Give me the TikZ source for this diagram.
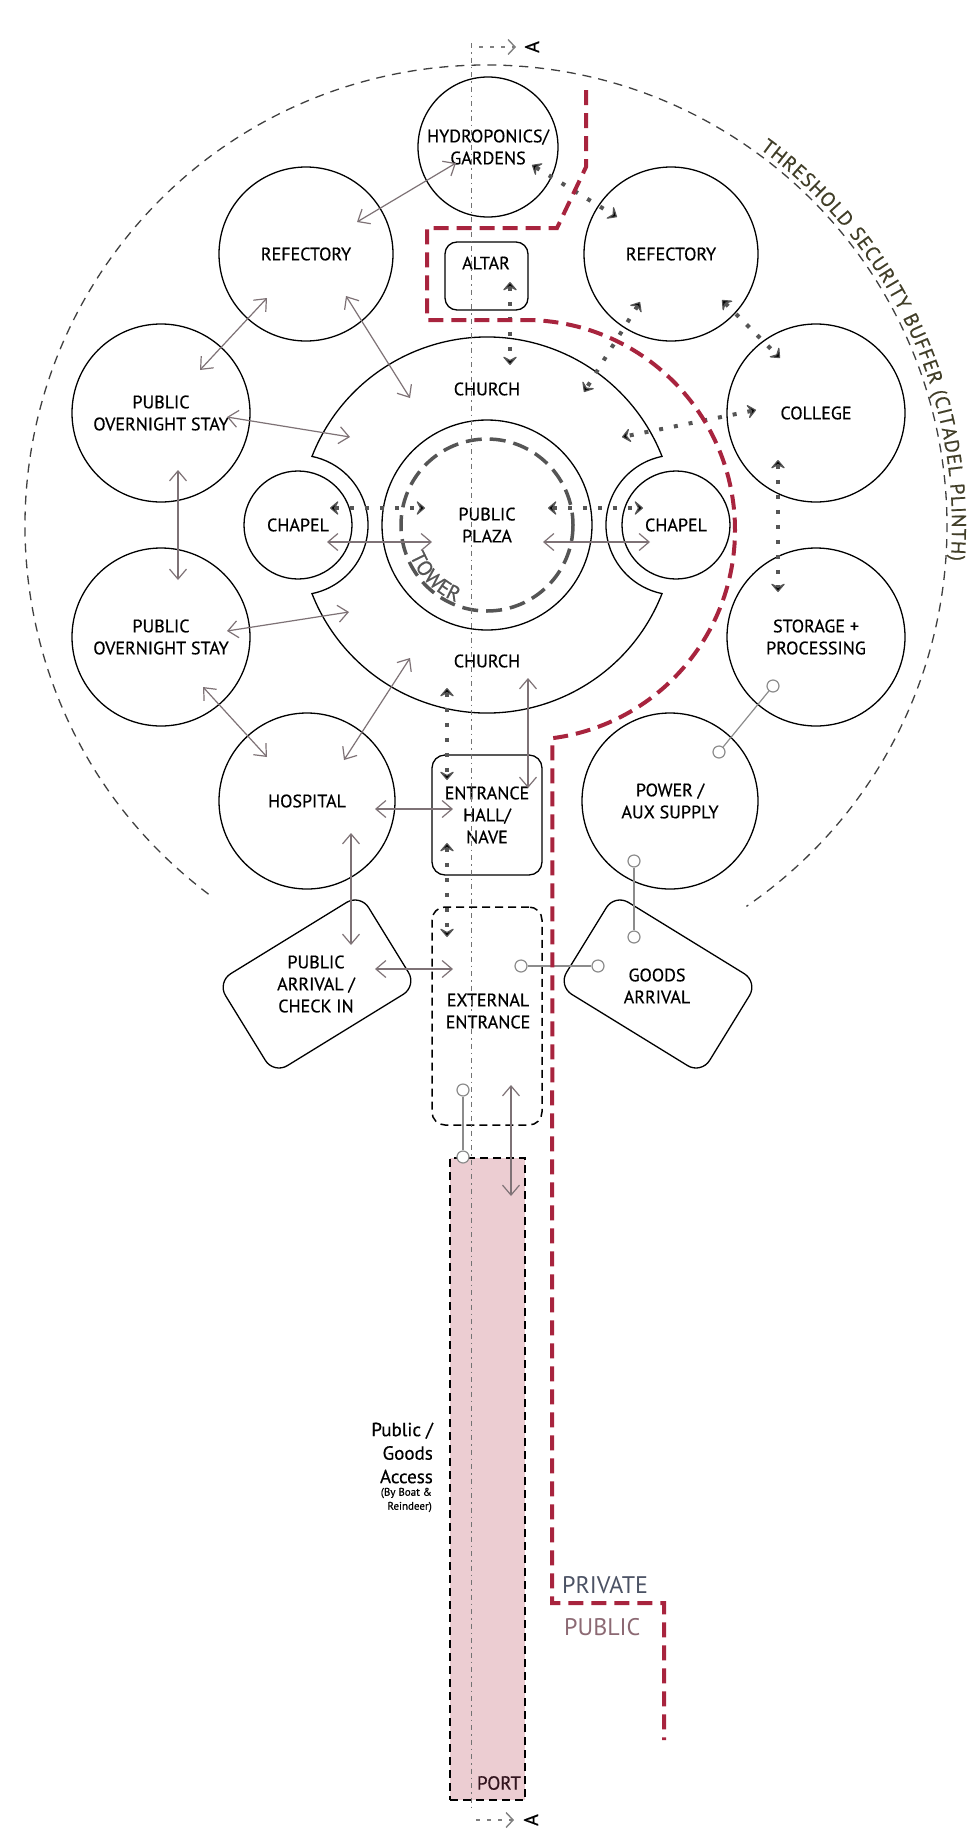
\documentclass[tikz,border=0pt]{standalone}
\usepackage{fontspec}
\setmainfont{PT Sans}[FakeBold=0.5]
\newfontfamily\lightfont{PT Sans}
\usetikzlibrary{arrows.meta,decorations.text,calc}
\definecolor{agray}{RGB}{126,114,118}
\definecolor{dgray}{RGB}{85,85,85}
\definecolor{cgray}{RGB}{140,140,140}
\definecolor{pred}{RGB}{168,36,62}
\definecolor{portpink}{RGB}{236,205,210}
\definecolor{privc}{RGB}{75,82,100}
\definecolor{pubc}{RGB}{140,105,115}
\definecolor{thrc}{RGB}{65,62,40}
\newcommand\lblfont{\fontsize{18}{22}\selectfont}
\newcommand\thrfont{\fontsize{20}{22}\selectfont}
\newcommand\afont{\fontsize{20}{22}\selectfont}
\begin{document}
\begin{tikzpicture}[x=1pt,y=-1pt,
  room/.style={circle,draw=black,line width=1.3pt,inner sep=0pt,minimum size=#1,align=center,font=\lblfont},
  hallbox/.style={rectangle,draw=black,line width=1.3pt,rounded corners=13pt,inner sep=0pt,align=center,font=\lblfont},
  extbox/.style={rectangle,draw=black,line width=1.5pt,dash pattern=on 8pt off 5pt,rounded corners=13pt,inner sep=0pt,minimum width=110,minimum height=218},
  portbox/.style={rectangle,draw=black,fill=portpink,line width=1.8pt,dash pattern=on 8pt off 5pt,inner sep=0pt,minimum width=75,minimum height=642},
  arrbox/.style={rectangle,draw=black,line width=1.3pt,rounded corners=16pt,inner sep=0pt,minimum width=168,minimum height=108},
  lbl/.style={font=\lblfont,align=center,inner sep=0pt},
  twoway/.style={draw=agray,line width=1.2pt,{Straight Barb[length=10pt,width=17pt]}-{Straight Barb[length=10pt,width=17pt]}},
  dotway/.style={draw=dgray,line width=4pt,dash pattern=on 4pt off 11pt,
     {Stealth[length=10pt,width=17pt,inset=4.5pt,line width=1.2pt,round]}-{Stealth[length=10pt,width=17pt,inset=4.5pt,line width=1.2pt,round]}},
  pin/.style={circle,draw=cgray,line width=1.2pt,fill=white,inner sep=0pt,minimum size=12pt},
  conn/.style={draw=cgray,line width=1.2pt},
  boundary/.style={draw=pred,line width=4pt,dash pattern=on 15pt off 8pt},
  thr/.style={draw=black!75,line width=1.3pt,dash pattern=on 9pt off 7pt},
  towerline/.style={draw=dgray,line width=3.5pt,dash pattern=on 16pt off 8pt},
  axisline/.style={draw=black!55,line width=0.9pt,dash pattern=on 5pt off 4pt on 1.5pt off 4pt},
  amark/.style={draw=black!50,line width=1.4pt,dash pattern=on 4pt off 7pt,-{Straight Barb[length=7pt,width=15pt]}}
]
\useasboundingbox (0,0) rectangle (978,1839);
\fill[white] (0,0) rectangle (978,1839);

% threshold security buffer
\draw[thr] (486,526) ++(127:461) arc[start angle=127,end angle=415.6,radius=461];
\path[decorate,decoration={text along path,text align=fit to path,text color=thrc,
  text={|\thrfont|THRESHOLD SECURITY BUFFER (CITADEL PLINTH)}}]
  (486,526) ++(-54:466) arc[start angle=-54,end angle=4.2,radius=466];

% port
\node[portbox] (port) at (487.5,1479) {};

% rooms
\node[room=140] (hydro) at (488,147) {HYDROPONICS/\\GARDENS};
\node[room=174] (refL) at (306,254) {REFECTORY};
\node[room=174] (refR) at (671,254) {REFECTORY};
\node[room=178] (ovU) at (161,413) {PUBLIC\\OVERNIGHT STAY};
\node[room=178] (coll) at (816,413) {COLLEGE};
\node[room=178] (ovL) at (161,637) {PUBLIC\\OVERNIGHT STAY};
\node[room=178] (stor) at (816,637) {STORAGE +\\PROCESSING};
\node[room=176] (hosp) at (307,801) {HOSPITAL};
\node[room=176] (powr) at (670,801) {POWER /\\AUX SUPPLY};
\node[room=108] (chL) at (298,525) {CHAPEL};
\node[room=108] (chR) at (676,525) {CHAPEL};
\node[room=210] (plaza) at (487,525) {PUBLIC\\PLAZA};

% church outline
\draw[line width=1.3pt] (487,525) ++(-158.6:188)
  arc[start angle=-158.6,end angle=-21.4,radius=188]
  arc[start angle=258.5,end angle=101.5,radius=70]
  arc[start angle=21.4,end angle=158.6,radius=188]
  arc[start angle=78.5,end angle=-78.5,radius=70] -- cycle;
\node[lbl] (churchT) at (487,389) {CHURCH};
\node[lbl] (churchB) at (487,661) {CHURCH};

% tower
\draw[towerline] (plaza.center) circle[radius=86];
\path[decorate,decoration={text along path,text align=center,text color=dgray,
  text={|\fontsize{21}{22}\selectfont|TOWER}}]
  (487,525) ++(178:83) arc[start angle=178,end angle=92,radius=83];

% boxes
\node[hallbox,minimum width=83,minimum height=68,rounded corners=12pt] (altar) at (486.5,276) {};
\node[lbl] (altarT) at (486,263) {ALTAR};
\node[hallbox,minimum width=110,minimum height=120] (hall) at (487,815) {ENTRANCE\\HALL/\\NAVE};
\node[extbox] (ext) at (487,1016) {};
\node[lbl] (extT) at (488,1011) {EXTERNAL\\ENTRANCE};
\node[arrbox,rotate=31.6] (arr) at (317,984) {};
\node[lbl] (arrT) at (316,984) {PUBLIC\\ARRIVAL /\\CHECK IN};
\node[arrbox,rotate=-31.6] (goods) at (658,984) {};
\node[lbl] (goodsT) at (657,986) {GOODS\\ARRIVAL};

% two-way public arrows
\coordinate (g1a) at (456,163); \coordinate (g1b) at (357,222);
\coordinate (g2a) at (267,298); \coordinate (g2b) at (200,370);
\coordinate (g3a) at (346,296); \coordinate (g3b) at (410,398);
\coordinate (g4a) at (227,417); \coordinate (g4b) at (350,437);
\coordinate (g5a) at (178,470); \coordinate (g5b) at (178,580);
\coordinate (g6a) at (227,631); \coordinate (g6b) at (349,612);
\coordinate (g7a) at (203,687); \coordinate (g7b) at (267,757);
\coordinate (g8a) at (344,760); \coordinate (g8b) at (410,658);
\coordinate (g9a) at (375,809); \coordinate (g9b) at (453,809);
\coordinate (g10a) at (351,833); \coordinate (g10b) at (351,945);
\coordinate (g11a) at (375,969); \coordinate (g11b) at (453,969);
\coordinate (g12a) at (528,678); \coordinate (g12b) at (528,788);
\coordinate (g13a) at (511,1085); \coordinate (g13b) at (511,1196);
\coordinate (g14a) at (327,542); \coordinate (g14b) at (432,542);
\coordinate (g15a) at (543,542); \coordinate (g15b) at (650,542);
\foreach \i in {1,...,15} {\draw[twoway] (g\i a) -- (g\i b);}

% dotted private circulation
\coordinate (d1a) at (532,165); \coordinate (d1b) at (617,217);
\coordinate (d2a) at (510,282); \coordinate (d2b) at (510,365);
\coordinate (d3a) at (640,302); \coordinate (d3b) at (584,392);
\coordinate (d4a) at (722,300); \coordinate (d4b) at (780,358);
\coordinate (d5a) at (756,410); \coordinate (d5b) at (622,437);
\coordinate (d6a) at (778,460); \coordinate (d6b) at (778,592);
\coordinate (d7a) at (330,508); \coordinate (d7b) at (425,508);
\coordinate (d8a) at (548,508); \coordinate (d8b) at (643,508);
\coordinate (d9a) at (447,688); \coordinate (d9b) at (447,780);
\coordinate (d10a) at (447,843); \coordinate (d10b) at (447,937);
\foreach \i in {1,...,10} {\draw[dotway] (d\i a) -- (d\i b);}

% service connectors
\node[pin] (p1) at (773,686) {}; \node[pin] (p2) at (719,752) {};
\node[pin] (p3) at (634,861) {}; \node[pin] (p4) at (634,937) {};
\node[pin] (p5) at (521,966) {}; \node[pin] (p6) at (598,966) {};
\node[pin] (p7) at (463,1090) {}; \node[pin] (p8) at (463,1157) {};
\draw[conn] (p1) -- (p2);
\draw[conn] (p3) -- (p4);
\draw[conn] (p5) -- (p6);
\draw[conn] (p7) -- (p8);

% private / public boundary
\draw[boundary] (586,90) -- (586,167) -- (557,228) -- (427,228) -- (427,320) -- (525,320)
  arc[start angle=-90,end angle=82.5,radius=210] -- (552,1603) -- (664,1603) -- (664,1740);
\node[font=\lightfont\fontsize{24}{26}\selectfont,text=privc,anchor=west,inner sep=0pt] (priv) at (562,1585) {PRIVATE};
\node[font=\lightfont\fontsize{24}{26}\selectfont,text=pubc,anchor=west,inner sep=0pt] (pub) at (564,1627) {PUBLIC};

% section axis
\draw[axisline] (471,43) -- (471,1808);
\coordinate (tA1) at (479,47); \coordinate (tA2) at (516,47);
\draw[amark] (tA1) -- (tA2);
\node[font=\afont,rotate=90,inner sep=0pt] (tA) at (532,47) {A};
\coordinate (bA1) at (476,1820); \coordinate (bA2) at (514,1820);
\draw[amark] (bA1) -- (bA2);
\node[font=\afont,rotate=90,inner sep=0pt] (bA) at (531,1820) {A};

% port labels
\node[font=\fontsize{19}{22}\selectfont,text={rgb,255:red,50;green,20;blue,30},inner sep=0pt] (portT) at (499,1783) {PORT};
\node[font=\fontsize{19}{23.5}\selectfont,align=right,anchor=east,inner sep=0pt] (acc) at (433,1453) {Public /\\Goods\\Access};
\node[font=\fontsize{11}{14}\selectfont,align=right,anchor=east,inner sep=0pt] (accS) at (432,1500) {(By Boat \&\\Reindeer)};
\end{tikzpicture}
\end{document}
